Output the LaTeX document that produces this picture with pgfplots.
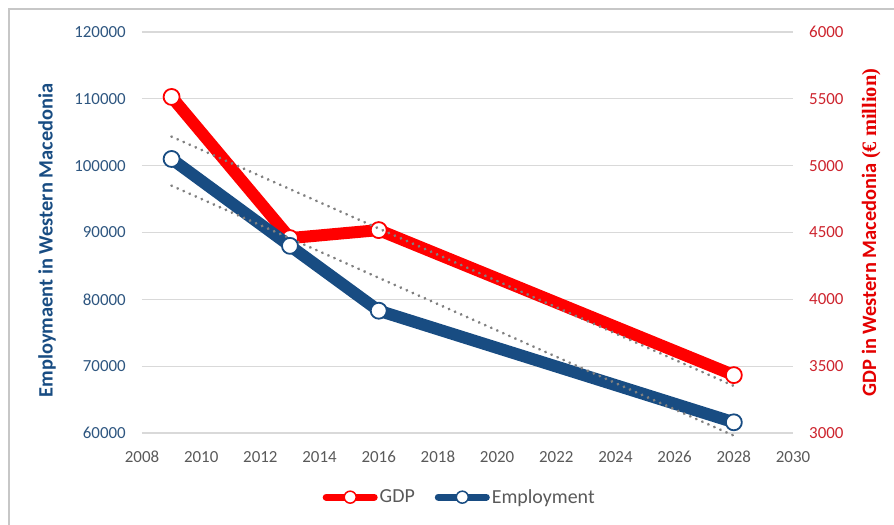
\documentclass[border=0pt]{standalone}
\usepackage{fontspec}
\setmainfont{Carlito}
\newfontfamily\serifb{Liberation Serif}
\usepackage{pgfplots}
\pgfplotsset{compat=1.18}
\definecolor{empblue}{RGB}{24,76,130}
\definecolor{emptick}{RGB}{46,86,128}
\definecolor{gdpred}{RGB}{255,0,0}
\definecolor{gdptick}{RGB}{205,35,45}
\definecolor{gdplab}{RGB}{228,0,0}
\definecolor{txtgray}{RGB}{89,89,89}
\definecolor{gridgray}{RGB}{217,217,217}
\definecolor{trendgray}{RGB}{128,128,128}
\pgfplotsset{
  common/.style={
    at={(0,0)}, anchor=south west,
    scale only axis, width=651bp, height=401bp,
    xmin=2008, xmax=2030,
    axis line style={draw=none},
    major tick length=0pt,
    scaled y ticks=false, scaled x ticks=false,
    /pgf/number format/.cd, fixed, precision=0, 1000 sep={}, assume math mode=true, /pgfplots/.cd,
    clip=false,
    legend image code/.code={\draw[#1, mark repeat=2, mark phase=2, line cap=round] plot coordinates {(0bp,0bp) (24bp,0bp) (48bp,0bp)};},
  },
  trend/.style={trendgray, line width=3bp, line cap=round, dash pattern=on 0.1bp off 6.5bp, forget plot},
}
\begin{document}
\begin{tikzpicture}[x=1bp,y=1bp]
% GDP axis (right) with grid and x ticks
\begin{axis}[common,
  ymin=3000, ymax=6000, ytick={3000,3500,...,6000},
  xtick={2008,2010,...,2030},
  axis y line*=right, axis x line*=bottom,
  ymajorgrids, grid style={gridgray, line width=1.2bp},
  xticklabel style={font=\fontsize{17}{20}\selectfont, text=txtgray, anchor=center, inner sep=0pt, yshift=-24bp},
  yticklabel style={font=\fontsize{17}{20}\selectfont, text=gdptick, anchor=west, inner sep=0pt, xshift=16bp},
  ylabel={GDP in Western Macedonia {\serifb(€ million)}},
  ylabel style={font=\fontsize{20.5}{24}\selectfont\bfseries, text=gdplab, at={(axis description cs:1.12,0.5)}, anchor=center, rotate=0},
]
\addplot[gdpred, line width=12bp, line join=round, mark=*, mark size=8bp,
  mark options={fill=white, draw=gdpred, line width=1.8bp}]
  coordinates {(2009,5514) (2013,4458) (2016,4518) (2028,3433)};
\end{axis}
% Employment axis (left)
\begin{axis}[common,
  ymin=60000, ymax=120000, ytick={60000,70000,...,120000},
  xtick=\empty,
  axis y line*=left,
  yticklabel style={font=\fontsize{17}{20}\selectfont, text=emptick, anchor=east, inner sep=0pt, xshift=-16bp},
  ylabel={Employmaent in Western Macedonia},
  ylabel style={font=\fontsize{20.5}{24}\selectfont\bfseries, text=empblue, at={(axis description cs:-0.146,0.48)}, anchor=center},
  legend style={at={(0.488,-0.16)}, anchor=center, draw=none, fill=none,
    legend columns=2, font=\fontsize{20}{23}\selectfont, text=txtgray,
    /tikz/every even column/.append style={column sep=18bp},
    legend cell align=left, inner sep=0pt},
]
\addlegendimage{gdpred, line width=7bp, mark=*, mark size=6bp, mark options={fill=white, draw=gdpred, line width=1.5bp}}
\addlegendentry{GDP}
\addlegendimage{empblue, line width=7bp, mark=*, mark size=6bp, mark options={fill=white, draw=empblue, line width=1.5bp}}
\addlegendentry{Employment}
\addplot[empblue, line width=12bp, line join=round, mark=*, mark size=8bp,
  mark options={fill=white, draw=empblue, line width=1.8bp}, forget plot]
  coordinates {(2009,101000) (2013,88000) (2016,78300) (2028,61600)};
\addplot[trend] coordinates {(2009,97000) (2028,59600)};
\end{axis}
% GDP trend on top
\begin{axis}[common, hide axis, ymin=3000, ymax=6000]
\addplot[trend] coordinates {(2009,5217) (2028,3352)};
\end{axis}
\draw[gridgray!80!gray, line width=1.5bp] (-133,-92) -- (-133,424) -- (752,424);
\pgfresetboundingbox
\useasboundingbox (-142,-92) rectangle (752,433);
\end{tikzpicture}
\end{document}
